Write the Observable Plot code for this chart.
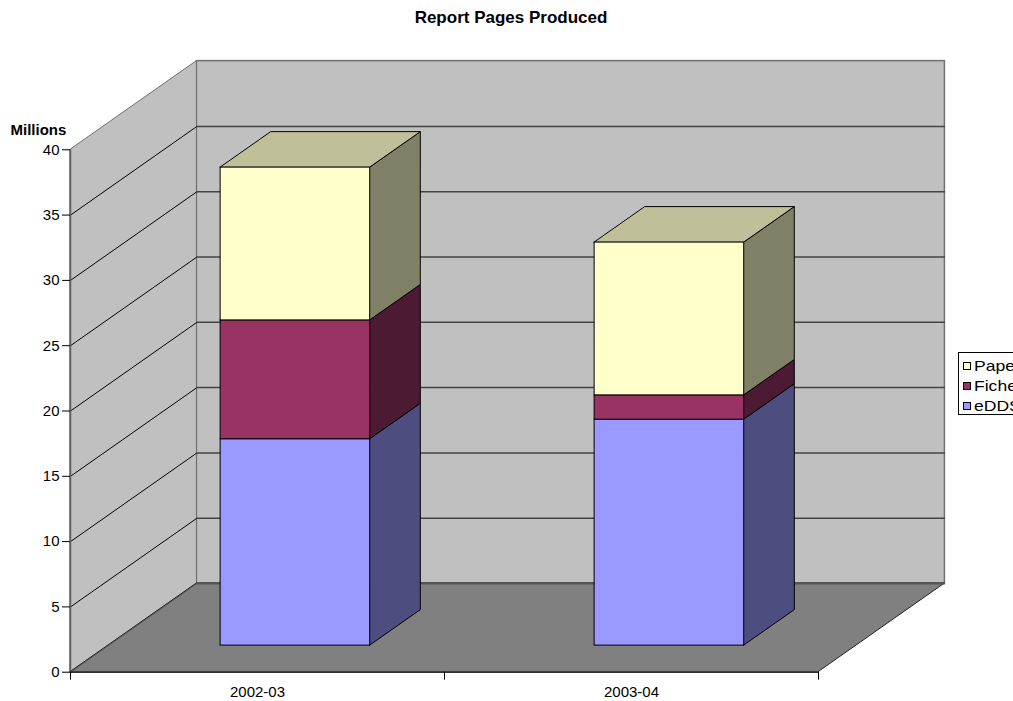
<!DOCTYPE html>
<html><head><meta charset="utf-8">
<script src="https://cdn.jsdelivr.net/npm/d3@7"></script>
<script src="https://cdn.jsdelivr.net/npm/@observablehq/plot@0.6"></script>
<style>
html,body{margin:0;padding:0;background:#fff;overflow:hidden;}
#wrap{position:relative;width:1013px;height:701px;overflow:hidden;font-family:"Liberation Sans",Arial,sans-serif;}
#title{position:absolute;left:0;top:8px;width:1022px;text-align:center;font-weight:bold;font-size:17px;line-height:19px;color:#000;}
#legend{position:absolute;left:958px;top:352px;width:80px;height:61px;border:1px solid #000;background:#fff;font-size:15px;color:#000;}
.row{position:absolute;left:0;height:16px;line-height:16px;white-space:nowrap;}
.sw{display:inline-block;width:6px;height:6px;border:1px solid #000;margin:0 3px 0 4px;vertical-align:middle;position:relative;top:-1px;}
.lt{display:inline-block;transform:scaleX(1.17);transform-origin:0 50%;}
</style></head>
<body><div id="wrap"><div id="title">Report Pages Produced</div></div>
<script>
// ---- data ----
const categories = ["2002-03", "2003-04"];
const seriesNames = ["eDDS", "Fiche", "Paper"];
const eDDS = [15.8, 17.3];
const Fiche = [9.1, 1.86];
const Paper = [11.7, 11.7];
const yTicks = [0, 5, 10, 15, 20, 25, 30, 35, 40];
const yLabel = "Millions";
const legendOrder = ["Paper", "Fiche", "eDDS"];

// ---- style ----
const frontColor = {eDDS: "#9999FF", Fiche: "#993366", Paper: "#FFFFCC"};
const sideColor  = {eDDS: "#4D4D80", Fiche: "#4D1A33", Paper: "#808066"};
const topColor   = {eDDS: "#7373BF", Fiche: "#73264D", Paper: "#BFBF99"};
const DX = 0.338, DY = 6.79;   // full depth offset (x in category units, y in value units)
const D0 = 0.3, D1 = 0.7, W = 0.4;
const yMax = yTicks[yTicks.length - 1];
const nCat = categories.length;

const values = {eDDS, Fiche, Paper};
const segs = [];
categories.forEach((cat, i) => {
  let base = 0;
  seriesNames.forEach((s, k) => {
    const v = values[s][i];
    segs.push({cat, i, series: s, id: cat + "|" + s, lo: base, hi: base + v, top: k === seriesNames.length - 1});
    base += v;
  });
});
const cx = i => i + 0.5;
const sidePts = segs.flatMap(s => [D0, D1].map(d => ({id: s.id, series: s.series, x: cx(s.i) + W / 2 + d * DX, y1: s.lo + d * DY, y2: s.hi + d * DY})));
const topPts = segs.filter(s => s.top).flatMap(s => [D0, D1].map(d => ({id: s.id, series: s.series, y: s.hi + d * DY, x1: cx(s.i) - W / 2 + d * DX, x2: cx(s.i) + W / 2 + d * DX})));
const fronts = segs.map(s => ({series: s.series, x1: cx(s.i) - W / 2 + D0 * DX, x2: cx(s.i) + W / 2 + D0 * DX, y1: s.lo + D0 * DY, y2: s.hi + D0 * DY}));

const gridVals = yTicks.filter(v => v > 0 && v < yMax);

const chart = Plot.plot({
  width: 1013, height: 701,
  marginLeft: 70, marginRight: 195, marginTop: 149.3, marginBottom: 29.3,
  x: {type: "linear", domain: [0, nCat]},
  y: {domain: [0, yMax]},
  color: {type: "identity"},
  style: {fontFamily: "'Liberation Sans', Arial, sans-serif", fontSize: "15px", background: "white", color: "#000"},
  marks: [
    // back wall
    Plot.rect([{x1: DX, x2: nCat + DX, y1: DY, y2: yMax + DY}], {x1: "x1", x2: "x2", y1: "y1", y2: "y2", fill: "#C0C0C0", stroke: "#707070", strokeWidth: 1.5}),
    // left wall
    Plot.areaY([{x: 0, y1: 0, y2: yMax}, {x: DX, y1: DY, y2: yMax + DY}], {x: "x", y1: "y1", y2: "y2", fill: "#C0C0C0", stroke: "#707070", strokeWidth: 1}),
    // floor
    Plot.areaX([{y: 0, x1: 0, x2: nCat}, {y: DY, x1: DX, x2: nCat + DX}], {y: "y", x1: "x1", x2: "x2", fill: "#808080", stroke: "#222", strokeWidth: 1}),
    Plot.link([{x1: DX, x2: nCat + DX, y: DY}], {x1: "x1", x2: "x2", y1: "y", y2: "y", stroke: "#555", strokeWidth: 2}),
    Plot.link([0], {x1: 0, y1: 0, x2: DX, y2: DY, stroke: "#555", strokeWidth: 1}),
    // gridlines
    Plot.link(gridVals, {x1: 0, y1: d => d, x2: DX, y2: d => d + DY, stroke: "#000", strokeWidth: 1}),
    Plot.link(gridVals, {x1: DX, y1: d => d + DY, x2: nCat + DX, y2: d => d + DY, stroke: "#444", strokeWidth: 1.5}),
    // bars
    Plot.areaY(sidePts, {x: "x", y1: "y1", y2: "y2", z: "id", fill: d => sideColor[d.series], stroke: "#000", strokeWidth: 1}),
    Plot.areaX(topPts, {y: "y", x1: "x1", x2: "x2", z: "id", fill: d => topColor[d.series], stroke: "#000", strokeWidth: 1}),
    Plot.rect(fronts, {x1: "x1", x2: "x2", y1: "y1", y2: "y2", fill: d => frontColor[d.series], stroke: "#000", strokeWidth: 1}),
    // axes
    Plot.ruleX([0], {y1: 0, y2: yMax, stroke: "#606060", strokeWidth: 1.5}),
    Plot.ruleY([0], {x1: 0, x2: nCat, stroke: "#000", strokeWidth: 1}),
    Plot.axisY({ticks: yTicks, tickSize: 8, tickPadding: 3, label: null, tickFormat: d => String(d)}),
    Plot.axisX({ticks: d3.range(nCat + 1), tickSize: 8, tickFormat: () => "", label: null}),
    Plot.axisX({ticks: categories.map((c, i) => cx(i)), tickFormat: d => categories[Math.floor(d)], tickSize: 0, tickPadding: 14, label: null}),
    Plot.text([yLabel], {frameAnchor: "top-left", dx: -60, dy: -25, textAnchor: "start", fontWeight: "bold", fontSize: 15})
  ]
});
const wrap = document.getElementById("wrap");
wrap.insertBefore(chart, wrap.firstChild);
chart.style.position = "absolute"; chart.style.left = "0"; chart.style.top = "0";

// legend
const lg = document.createElement("div");
lg.id = "legend";
const centers = [13.4, 32.5, 52.5];
legendOrder.forEach((s, k) => {
  const r = document.createElement("div");
  r.className = "row";
  r.style.top = (centers[k] - 8) + "px";
  const sw = document.createElement("span");
  sw.className = "sw"; sw.style.background = frontColor[s];
  r.appendChild(sw);
  const t = document.createElement("span");
  t.className = "lt"; t.textContent = s;
  r.appendChild(t);
  lg.appendChild(r);
});
wrap.appendChild(lg);
</script>
</body></html>
